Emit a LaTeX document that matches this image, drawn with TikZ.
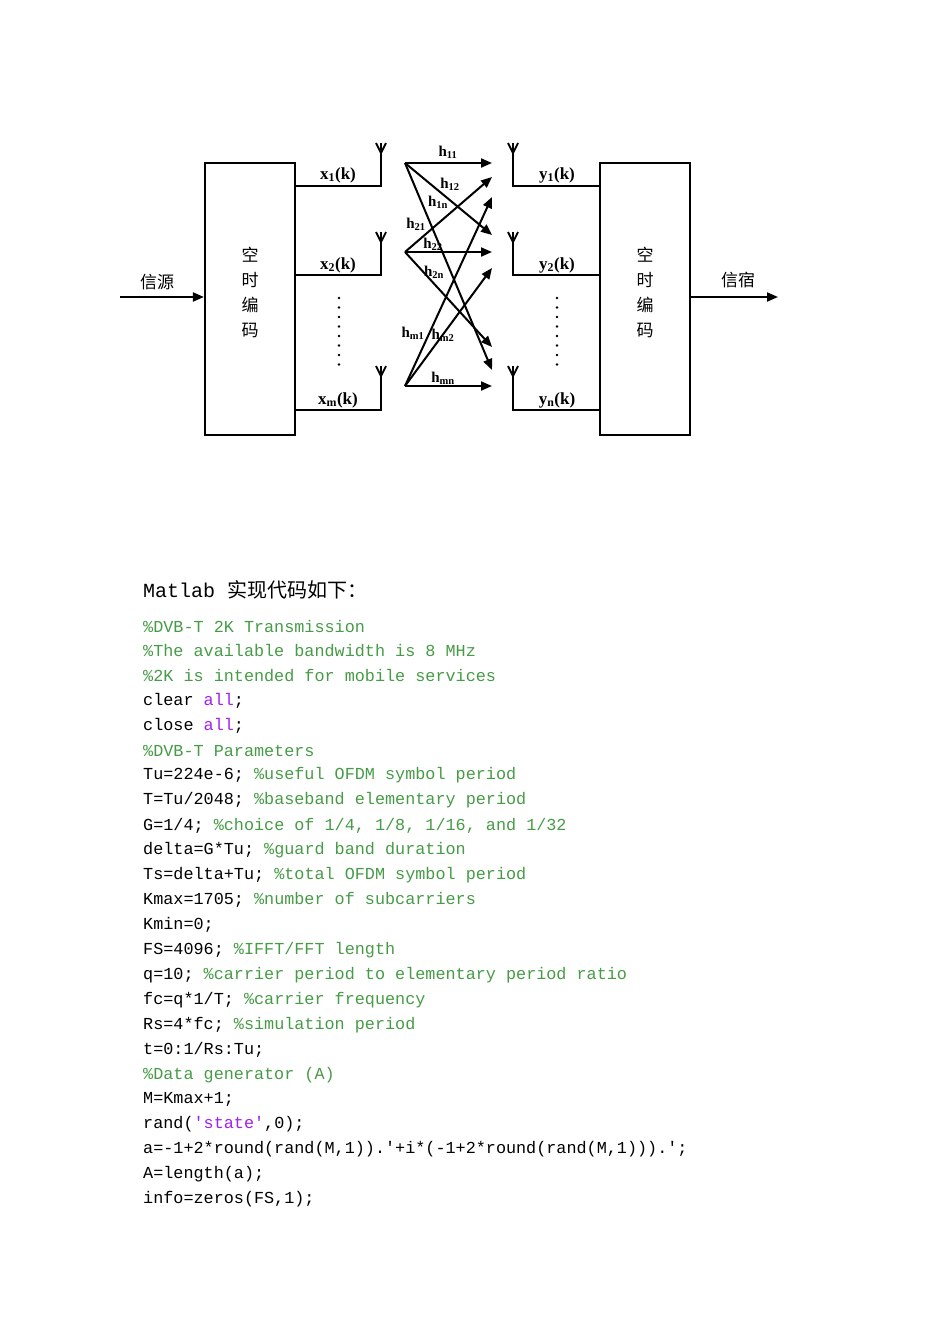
\documentclass[tikz,border=0pt]{standalone}
\usepackage{fontspec}
\setmainfont{Liberation Serif}
\setmonofont{Liberation Mono}
\newfontfamily\cjk{Noto Sans CJK SC}
\usetikzlibrary{arrows.meta}
\definecolor{cmt}{RGB}{70,155,70}
\definecolor{kw}{RGB}{160,32,240}
\begin{document}
\begin{tikzpicture}[x=1pt,y=-1pt,
  ln/.style={line width=2.2pt},
  arr/.style={line width=2pt,-{Triangle[length=11pt,width=9pt]}},
  lab/.style={font=\fontsize{17}{17}\selectfont\bfseries,inner sep=0pt},
  hl/.style={font=\fontsize{15}{15}\selectfont\bfseries,inner sep=0pt},
  cj/.style={font=\cjk\fontsize{17}{17}\selectfont,inner sep=0pt},
  code/.style={font=\ttfamily\fontsize{16.8}{16.8}\selectfont,anchor=west,inner sep=0pt}]
\useasboundingbox (0,0) rectangle (950,1344);
\node[draw,ln,minimum width=90pt,minimum height=272pt,inner sep=0pt] (enc) at (250,299) {};
\node[draw,ln,minimum width=90pt,minimum height=272pt,inner sep=0pt] (dec) at (645,299) {};
\foreach \c/\y in {空/255,时/280,编/305,码/330}{
  \node[cj] (l\y) at (250,\y) {\c};
  \node[cj] (r\y) at (645,\y) {\c};}
\coordinate (in) at (120,297);
\draw[arr] (in) -- (enc.west|-in);
\coordinate (out) at (778,297);
\draw[arr] (dec.east|-out) -- (out);
\node[cj] (src) at (157,282) {信源};
\node[cj] (dst) at (738,280) {信宿};
% antennas
\foreach \n/\x/\y in {a1/381/143,a2/381/232,am/381/366,b1/513/143,b2/513/232,bm/513/366}{
  \coordinate (\n) at (\x,\y);
  \draw[line width=1.8pt] (\x,\y) -- (\x,\y+20) (\x-5,\y) -- (\x,\y+10) -- (\x+5,\y);
}
\foreach \n/\y in {a1/186,a2/275,am/410}{\draw[ln] (enc.east|-0,\y) -- (\n|-0,\y) -- ([yshift=-18pt]\n);}
\foreach \n/\y in {b1/186,b2/275,bm/410}{\draw[ln] ([yshift=-18pt]\n) -- (\n|-0,\y) -- (dec.west|-0,\y);}
\node[lab] (x1) at (338,175) {x\textsubscript{1}(k)};
\node[lab] (x2) at (338,265) {x\textsubscript{2}(k)};
\node[lab] (xm) at (338,400) {x\textsubscript{m}(k)};
\node[lab] (y1) at (557,175) {y\textsubscript{1}(k)};
\node[lab] (y2) at (557,265) {y\textsubscript{2}(k)};
\node[lab] (yn) at (557,400) {y\textsubscript{n}(k)};
\foreach \x in {339,557}{\foreach \k in {0,...,7}{\fill (\x,298+\k*9.5) circle (1.3pt);}}
% channels
\coordinate (t1) at (405,163); \coordinate (t2) at (405,252); \coordinate (tm) at (405,386);
\foreach \n/\y in {e1/163,e2/177,e3/197,e4/235,e5/252,e6/268,e7/347,e8/370,e9/386}{\coordinate (\n) at (492,\y);}
\draw[arr] (t1) -- (e1); \draw[arr] (t1) -- (e4); \draw[arr] (t1) -- (e8);
\draw[arr] (t2) -- (e2); \draw[arr] (t2) -- (e5); \draw[arr] (t2) -- (e7);
\draw[arr] (tm) -- (e3); \draw[arr] (tm) -- (e6); \draw[arr] (tm) -- (e9);
\node[hl] (h11) at (448,152) {h\textsubscript{11}};
\node[hl] (h12) at (450,184) {h\textsubscript{12}};
\node[hl] (h1n) at (438,202) {h\textsubscript{1n}};
\node[hl] (h21) at (416,224) {h\textsubscript{21}};
\node[hl] (h22) at (433,244) {h\textsubscript{22}};
\node[hl] (h2n) at (434,272) {h\textsubscript{2n}};
\node[hl] (hm1) at (413,333) {h\textsubscript{m1}};
\node[hl] (hm2) at (443,335) {h\textsubscript{m2}};
\node[hl] (hmn) at (443,378) {h\textsubscript{mn}};
% text
\node[anchor=west,inner sep=0pt] (title) at (143,590) {\ttfamily\fontsize{20}{20}\selectfont Matlab \cjk 实现代码如下：};
\def\L#1#2{\node[code] (c#1) at (143,{626+24.93*#1}) {#2};}
\L{0}{\color{cmt}\%DVB-T 2K Transmission}
\L{1}{\color{cmt}\%The available bandwidth is 8 MHz}
\L{2}{\color{cmt}\%2K is intended for mobile services}
\L{3}{clear \textcolor{kw}{all};}
\L{4}{close \textcolor{kw}{all};}
\L{5}{\color{cmt}\%DVB-T Parameters}
\L{6}{Tu=224e-6; \textcolor{cmt}{\%useful OFDM symbol period}}
\L{7}{T=Tu/2048; \textcolor{cmt}{\%baseband elementary period}}
\L{8}{G=1/4; \textcolor{cmt}{\%choice of 1/4, 1/8, 1/16, and 1/32}}
\L{9}{delta=G*Tu; \textcolor{cmt}{\%guard band duration}}
\L{10}{Ts=delta+Tu; \textcolor{cmt}{\%total OFDM symbol period}}
\L{11}{Kmax=1705; \textcolor{cmt}{\%number of subcarriers}}
\L{12}{Kmin=0;}
\L{13}{FS=4096; \textcolor{cmt}{\%IFFT/FFT length}}
\L{14}{q=10; \textcolor{cmt}{\%carrier period to elementary period ratio}}
\L{15}{fc=q*1/T; \textcolor{cmt}{\%carrier frequency}}
\L{16}{Rs=4*fc; \textcolor{cmt}{\%simulation period}}
\L{17}{t=0:1/Rs:Tu;}
\L{18}{\color{cmt}\%Data generator (A)}
\L{19}{M=Kmax+1;}
\L{20}{rand(\textcolor{kw}{'state'},0);}
\L{21}{a=-1+2*round(rand(M,1)).'+i*(-1+2*round(rand(M,1))).';}
\L{22}{A=length(a);}
\L{23}{info=zeros(FS,1);}
\end{tikzpicture}
\end{document}
